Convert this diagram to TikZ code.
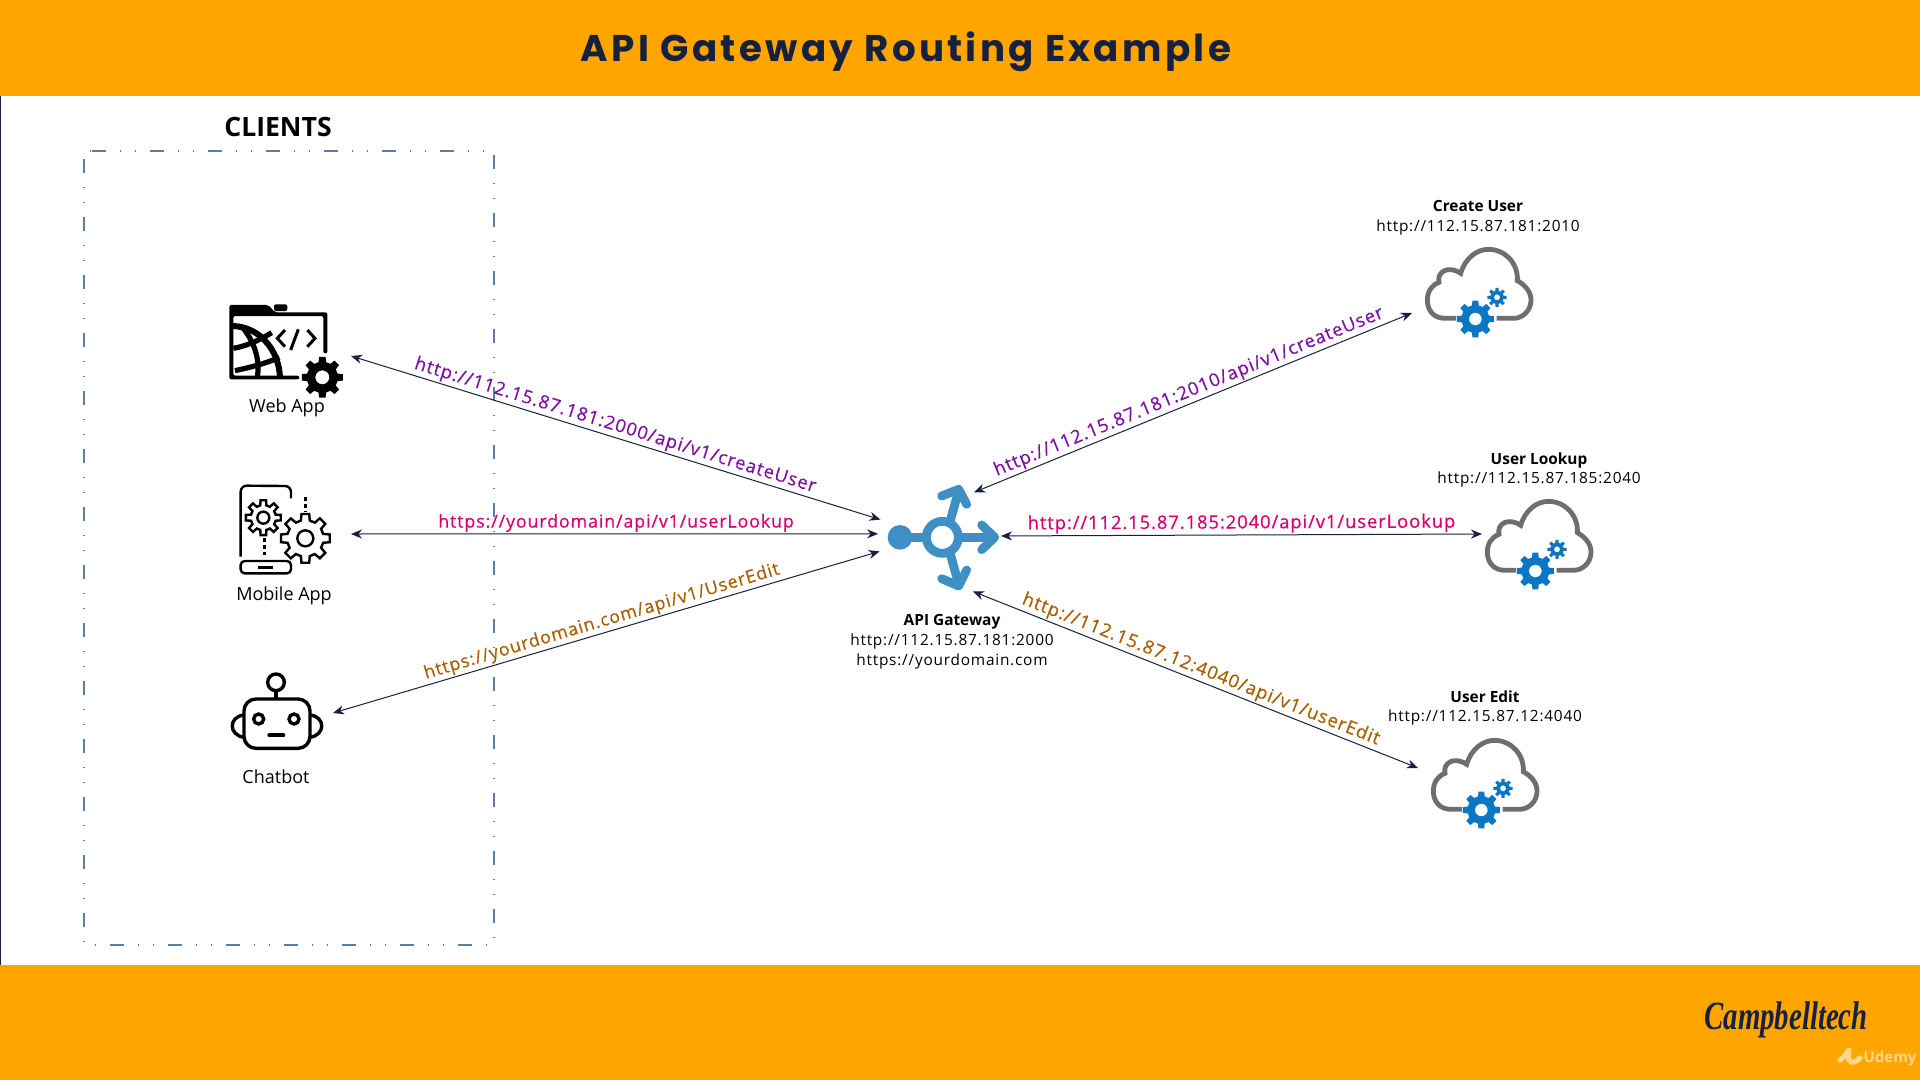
\documentclass[tikz,border=0pt]{standalone}
\usepackage{fontspec}
\usetikzlibrary{arrows.meta,positioning}
\setmainfont{Open Sans}
\newfontfamily\urlfont[LetterSpace=5]{Open Sans}
\newfontfamily\linkfont[LetterSpace=5,FakeBold=.35]{Open Sans}
\newfontfamily\titlefont[LetterSpace=9]{Poppins}
\newfontfamily\logofont{Liberation Serif}
\definecolor{bandorange}{HTML}{FFA500}
\definecolor{navyline}{HTML}{16213F}
\definecolor{boxblue}{HTML}{5B7EA6}
\definecolor{urlpurple}{HTML}{7F10A4}
\definecolor{urlpink}{HTML}{DC006E}
\definecolor{urlbrown}{HTML}{A85F00}
\definecolor{gwblue}{HTML}{3D8FC4}
\definecolor{gearblue}{HTML}{0A77C4}
\definecolor{cloudgrey}{HTML}{6E6E6E}
% eight teeth: options, centre, inner radius, outer radius, hole
\newcommand{\gearpath}[5]{
  \path[#1,even odd rule,shift={(#2)}] (-14:#3)
    \foreach \t in {0,45,...,315} { -- (\t-14:#3) -- (\t-9:#4) -- (\t+9:#4) -- (\t+14:#3) }
    -- cycle (0,0) circle (#5);
}
\tikzset{
  cloudicon/.pic={
    \begin{scope}[x=.16667pt,y=-.16667pt]
      \draw[cloudgrey,line width=2.4pt] (258,385) -- (225,385) .. controls (190,385) and (172,360) .. (172,330)
        .. controls (172,305) and (185,285) .. (207,277) .. controls (200,245) and (235,225) .. (272,250)
        .. controls (285,205) and (320,178) .. (355,178) .. controls (405,178) and (445,220) .. (442,272)
        .. controls (465,285) and (483,305) .. (483,330) .. controls (483,360) and (460,385) .. (430,385) -- (380,385);
      \gearpath{fill=gearblue}{316,387}{42}{56}{19}
      \gearpath{fill=gearblue}{381,322}{20}{29}{9}
    \end{scope}
  }
}
\begin{document}
\begin{tikzpicture}[x=.5pt,y=-.5pt,node distance=25pt,>={Stealth[length=5.5pt,width=4.5pt]},
    hit/.style={inner sep=0pt,outer sep=0pt},
    iconlabel/.style={font=\fontsize{9}{11}\selectfont,inner sep=0pt,text=black},
    svclabel/.style={font=\fontsize{7.7}{9.9}\selectfont,align=center,inner sep=0pt,text=black},
    urllabel/.style={font=\linkfont\fontsize{9.2}{11}\selectfont,sloped,above,inner sep=.8pt},
    shortlabel/.style={urllabel,font=\linkfont\fontsize{8.9}{11}\selectfont},
    link/.style={<->,draw=navyline,line width=.5pt},
    bits/.style={x=.16667pt,y=-.16667pt}]

  \useasboundingbox (0,0) rectangle (1920,1080);
  \fill[white] (0,0) rectangle (1920,1080);
  \fill[bandorange] (0,0) rectangle (1920,96);
  \fill[bandorange] (0,965) rectangle (1920,1080);
  \draw[navyline,line width=.5pt] (0,96) -- (0,965);

  \node[hit,font=\titlefont\bfseries\fontsize{18.6}{24}\selectfont,text=navyline] (title) at (906,52) {API Gateway Routing Example};
  \node[hit,font=\bfseries\fontsize{13.3}{16}\selectfont,text=black] (clients) at (278,127) {CLIENTS};
  \draw[boxblue,line width=.6pt,dash pattern=on 7pt off 7pt on .5pt off 7pt on .5pt off 7pt] (92,151) -- (494,151) -- (494,945) -- (84,945) -- (84,151) -- cycle;

  % invisible boxes the connectors end on
  \node[hit,minimum width=64pt,minimum height=50pt] (webapp) at (287,356) {};
  \node[hit,minimum width=64pt,minimum height=50pt] (mobileapp) at (287,534) {};
  \node[hit,minimum width=58pt,minimum height=50pt] (chatbot) at (275,713) {};
  \node[hit,circle,minimum size=60pt] (gateway) at (941,537) {};
  \node[hit,minimum width=66pt,minimum height=50pt] (createuser) at (1478,313) {};
  \node[hit,minimum width=66pt,minimum height=50pt] (userlookup) at (1548,534) {};
  \node[hit,minimum width=66pt,minimum height=50pt] (useredit) at (1484,768) {};

  \node[iconlabel] (webapplabel) [below of=webapp,node distance=26pt] {Web App};
  \node[iconlabel,xshift=-1.5pt] (mobileapplabel) [below of=mobileapp,node distance=31pt] {Mobile App};
  \node[iconlabel,xshift=.5pt] (chatbotlabel) [below of=chatbot,node distance=32pt] {Chatbot};
  \node[svclabel] (gatewaylabel) at (952,642) {{\bfseries API Gateway}\\{\urlfont http://112.15.87.181:2000}\\{\urlfont https://yourdomain.com}};
  \node[svclabel] (createuserlabel) at (1478,218) {{\bfseries Create User}\\{\urlfont http://112.15.87.181:2010}};
  \node[svclabel] (userlookuplabel) at (1539,470) {{\bfseries User Lookup}\\{\urlfont http://112.15.87.185:2040}};
  \node[svclabel] (usereditlabel) at (1485,708) {{\bfseries User Edit}\\{\urlfont http://112.15.87.12:4040}};

  \draw[link,shorten >=1.5pt] (webapp.east) -- node[urllabel,text=urlpurple,pos=.49] {http://112.15.87.181:2000/api/v1/createUser} (gateway.164);
  \draw[link,shorten >=1.5pt] (mobileapp.east) -- node[shortlabel,text=urlpink,pos=.5] {https://yourdomain/api/v1/userLookup} (gateway.177);
  \draw[link,shorten >=1.5pt] (chatbot.east) -- node[shortlabel,text=urlbrown,pos=.495] {https://yourdomain.com/api/v1/UserEdit} (gateway.193);
  \draw[link,shorten <=-2.5pt] (gateway.51) -- node[urllabel,text=urlpurple,pos=.495] {http://112.15.87.181:2010/api/v1/createUser} (createuser.west);
  \draw[link] (gateway.1) -- node[urllabel,text=urlpink,pos=.5] {http://112.15.87.185:2040/api/v1/userLookup} (userlookup.west);
  \draw[link,shorten <=2pt] (gateway.298) -- node[urllabel,text=urlbrown,pos=.507] {http://112.15.87.12:4040/api/v1/userEdit} (useredit.west);

  % web app icon
  \begin{scope}[shift={(200,280)},bits]
    \fill[black,rounded corners=1pt] (88,75) -- (205,75) -- (225,97) -- (382,97) -- (382,220) -- (370,220) -- (370,108) -- (110,108) -- (100,108) -- (100,287) -- (298,287) -- (298,298) -- (88,298) -- cycle;
    \fill[black,rounded corners=1pt] (222,93) -- (222,73) -- (262,73) -- (262,93) -- cycle;
    \draw[line width=3pt] (98,138) .. controls (175,140) and (236,205) .. (240,292);
    \draw[line width=2.6pt] (100,205) .. controls (140,198) and (180,180) .. (215,158);
    \draw[line width=2.6pt] (105,272) .. controls (150,262) and (200,250) .. (238,232);
    \draw[line width=2.6pt] (130,145) .. controls (165,190) and (180,240) .. (172,292);
    \draw[line width=1.5pt] (255,150) -- (232,175) -- (255,200);
    \draw[line width=1.5pt] (295,148) -- (272,210);
    \draw[line width=1.5pt] (322,150) -- (345,175) -- (322,200);
    \gearpath{fill=black}{367,292}{47}{62}{21}
  \end{scope}

  % mobile app icon
  \begin{scope}[shift={(200,280)},bits,line width=1.2pt]
    \draw (122,830) -- (122,635) arc (180:270:18) -- (255,618) arc (270:360:18) -- (273,655);
    \draw[rounded corners=2pt] (122,843) -- (273,843) -- (273,880) -- (122,880) -- cycle;
    \draw[line width=1.4pt] (175,862) -- (218,862);
    \gearpath{draw=black}{190,713}{38}{53}{18}
    \gearpath{draw=black}{316,775}{55}{74}{24}
    \draw[dashed,dash pattern=on 2pt off 1.5pt] (193,775) -- (193,825);
    \draw[dashed,dash pattern=on 2pt off 1.5pt] (316,650) -- (316,695);
  \end{scope}

  % chatbot icon
  \begin{scope}[shift={(200,660)},bits,line width=1.7pt]
    \draw[rounded corners=6pt] (132,117) rectangle (330,265);
    \draw (228,67) circle (25);
    \draw (228,92) -- (228,117);
    \draw (132,165) .. controls (85,170) and (85,225) .. (132,232);
    \draw (330,165) .. controls (377,170) and (377,225) .. (330,232);
    \draw (176,177) circle (15);
    \draw (282,177) circle (15);
    \draw[line cap=round,line width=2pt] (208,226) -- (250,226);
  \end{scope}

  % gateway icon
  \begin{scope}[shift={(850,460)},bits,draw=gwblue,line width=4.4pt,line cap=round,line join=round]
    \fill[gwblue] (150,232) circle (37);
    \draw (277,232) circle (48);
    \draw (150,232) -- (228,232);
    \draw (326,232) -- (425,232);
    \draw (395,195) -- (434,232) -- (395,269);
    \draw (300,185) -- (326,92);
    \draw (275,108) -- (326,88) -- (350,133);
    \draw (300,279) -- (326,372);
    \draw (275,356) -- (326,378) -- (350,330);
  \end{scope}

  \pic at (1370,190) {cloudicon};
  \pic at (1430,442) {cloudicon};
  \pic at (1376,681) {cloudicon};

  \node[hit,transform shape,xscale=.72,font=\logofont\bfseries\itshape\fontsize{20}{24}\selectfont,text=navyline] (logo) at (1786,1020) {Campbelltech};
  \node[hit,font=\bfseries\fontsize{7.5}{9}\selectfont,text=white,opacity=.55] (udemy) at (1890,1059) {Udemy};
  \draw[white,opacity=.55,line width=2.6pt,line cap=round,line join=round] (1840,1060) .. controls (1846,1056) and (1848,1050) .. (1849,1050) .. controls (1846,1062) and (1852,1066) .. (1860,1058);
\end{tikzpicture}
\end{document}
